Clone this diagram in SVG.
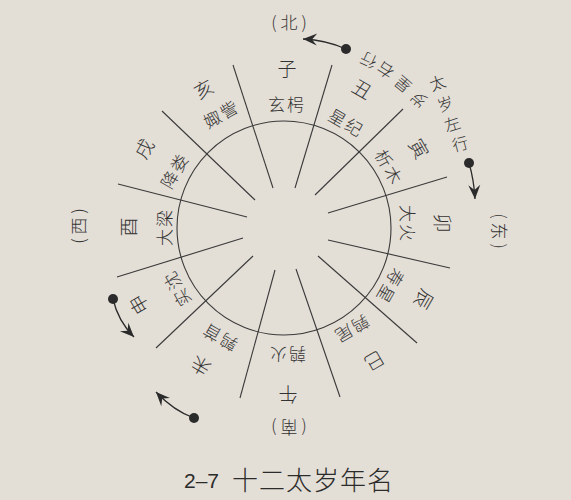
<svg xmlns="http://www.w3.org/2000/svg" width="571" height="500" viewBox="0 0 571 500">
  <defs>
    <style>
      .t { font-family: "Noto Sans CJK SC", "Noto Sans CJK TC", sans-serif; font-weight: 300; fill: #333333; text-anchor: middle; dominant-baseline: central; }
      .br { font-size: 19px; }
      .st { font-size: 17px; letter-spacing: 2px; }
      .dir { font-size: 17px; letter-spacing: 4px; }
      .note { font-size: 16px; }
      .ln { stroke: #3a3a3a; stroke-width: 1.1; fill: none; }
      .arr { stroke: #2b2b2b; stroke-width: 1.3; fill: none; marker-end: url(#ah); }
      .dot { fill: #2b2b2b; }
    </style>
    <marker id="ah" viewBox="-15 -7 16 14" markerWidth="16" markerHeight="14" refX="0" refY="0" orient="auto" markerUnits="userSpaceOnUse">
      <path d="M0,0 L-14,-6 L-9,0 L-14,6 Z" fill="#2b2b2b"/>
    </marker>
  </defs>
  <rect width="571" height="500" fill="#e3ded6"/>

  <g id="circle">
    <circle cx="284" cy="228" r="107" class="ln"/>
  </g>

  <g id="connectors">
    <line class="ln" x1="233" y1="65" x2="273" y2="188"/>
    <line class="ln" x1="332" y1="65" x2="295" y2="188"/>
    <line class="ln" x1="403" y1="109" x2="315" y2="195"/>
    <line class="ln" x1="447" y1="177" x2="328" y2="213"/>
    <line class="ln" x1="450" y1="268" x2="328" y2="240"/>
    <line class="ln" x1="417" y1="343" x2="318" y2="256"/>
    <line class="ln" x1="340" y1="397" x2="296" y2="269"/>
    <line class="ln" x1="240" y1="398" x2="275" y2="270"/>
    <line class="ln" x1="156" y1="348" x2="253" y2="256"/>
    <line class="ln" x1="117" y1="277" x2="243" y2="238"/>
    <line class="ln" x1="118" y1="184" x2="247" y2="217"/>
    <line class="ln" x1="162" y1="111" x2="255" y2="200"/>
    <circle class="dot" cx="346" cy="49" r="5"/>
    <path class="arr" d="M346,49 Q326,40 303,39"/>
    <circle class="dot" cx="469" cy="163" r="5"/>
    <path class="arr" d="M469,163 Q474,180 475,199"/>
    <circle class="dot" cx="113" cy="299" r="5"/>
    <path class="arr" d="M113,299 Q118,321 134,337"/>
    <circle class="dot" cx="194" cy="418" r="5"/>
    <path class="arr" d="M194,418 Q174,411 156,392"/>
  </g>

  <g id="zi">
    <text class="t br" transform="translate(287,67)">子</text>
    <text class="t st" transform="translate(287,103)">玄枵</text>
  </g>
  <g id="chou">
    <text class="t br" transform="translate(363,88) rotate(30)">丑</text>
    <text class="t st" transform="translate(347,122) rotate(30)">星纪</text>
  </g>
  <g id="yin">
    <text class="t br" transform="translate(420,148) rotate(60)">寅</text>
    <text class="t st" transform="translate(390,167) rotate(60)">析木</text>
  </g>
  <g id="mao">
    <text class="t br" transform="translate(443,223) rotate(90)">卯</text>
    <text class="t st" transform="translate(408,224) rotate(90)">大火</text>
  </g>
  <g id="chen">
    <text class="t br" transform="translate(425,300) rotate(120)">辰</text>
    <text class="t st" transform="translate(391,287) rotate(120)">寿星</text>
  </g>
  <g id="si">
    <text class="t br" transform="translate(375,362) rotate(150)">巳</text>
    <text class="t st" transform="translate(352,330) rotate(150)">鹑尾</text>
  </g>
  <g id="wu">
    <text class="t br" transform="translate(288,395) rotate(180)">午</text>
    <text class="t st" transform="translate(287,355) rotate(180)">鹑火</text>
  </g>
  <g id="wei">
    <text class="t br" transform="translate(200,367) rotate(210)">未</text>
    <text class="t st" transform="translate(219,338) rotate(210)">鹑首</text>
  </g>
  <g id="shen">
    <text class="t br" transform="translate(138,305) rotate(240)">申</text>
    <text class="t st" transform="translate(176,289) rotate(240)">实沈</text>
  </g>
  <g id="you">
    <text class="t br" transform="translate(127,227) rotate(270)">酉</text>
    <text class="t st" transform="translate(163,227) rotate(270)">大梁</text>
  </g>
  <g id="xu">
    <text class="t br" transform="translate(143,148) rotate(300)">戌</text>
    <text class="t st" transform="translate(174,170) rotate(300)">降娄</text>
  </g>
  <g id="hai">
    <text class="t br" transform="translate(203,88) rotate(330)">亥</text>
    <text class="t st" transform="translate(221,113) rotate(330)">娵訾</text>
  </g>

  <g id="north"><text class="t dir" transform="translate(291,21)">(北)</text></g>
  <g id="east"><text class="t dir" transform="translate(500,233) rotate(90)">(东)</text></g>
  <g id="south"><text class="t dir" transform="translate(287,428) rotate(180)">(南)</text></g>
  <g id="west"><text class="t dir" transform="translate(77,224) rotate(270)">(西)</text></g>

  <g id="suixing-note">
    <text class="t note" transform="translate(418,100) rotate(-140)">岁</text>
    <text class="t note" transform="translate(402,85) rotate(-140)">星</text>
    <text class="t note" transform="translate(385,71) rotate(-148)">右</text>
    <text class="t note" transform="translate(368,61) rotate(-155)">行</text>
  </g>
  <g id="taisui-note">
    <text class="t note" transform="translate(437,82) rotate(-20)">太</text>
    <text class="t note" transform="translate(445,103) rotate(-20)">岁</text>
    <text class="t note" transform="translate(452,123) rotate(-18)">左</text>
    <text class="t note" transform="translate(460,143) rotate(-15)">行</text>
  </g>

  <g id="caption">
    <text x="184" y="488" font-family="Liberation Sans, Arial, sans-serif" font-size="21" fill="#2b2b2b">2–7</text>
    <text x="232" y="490" font-family="Noto Sans CJK SC, sans-serif" font-weight="300" font-size="26" letter-spacing="1" fill="#2b2b2b">十二太岁年名</text>
  </g>
</svg>
